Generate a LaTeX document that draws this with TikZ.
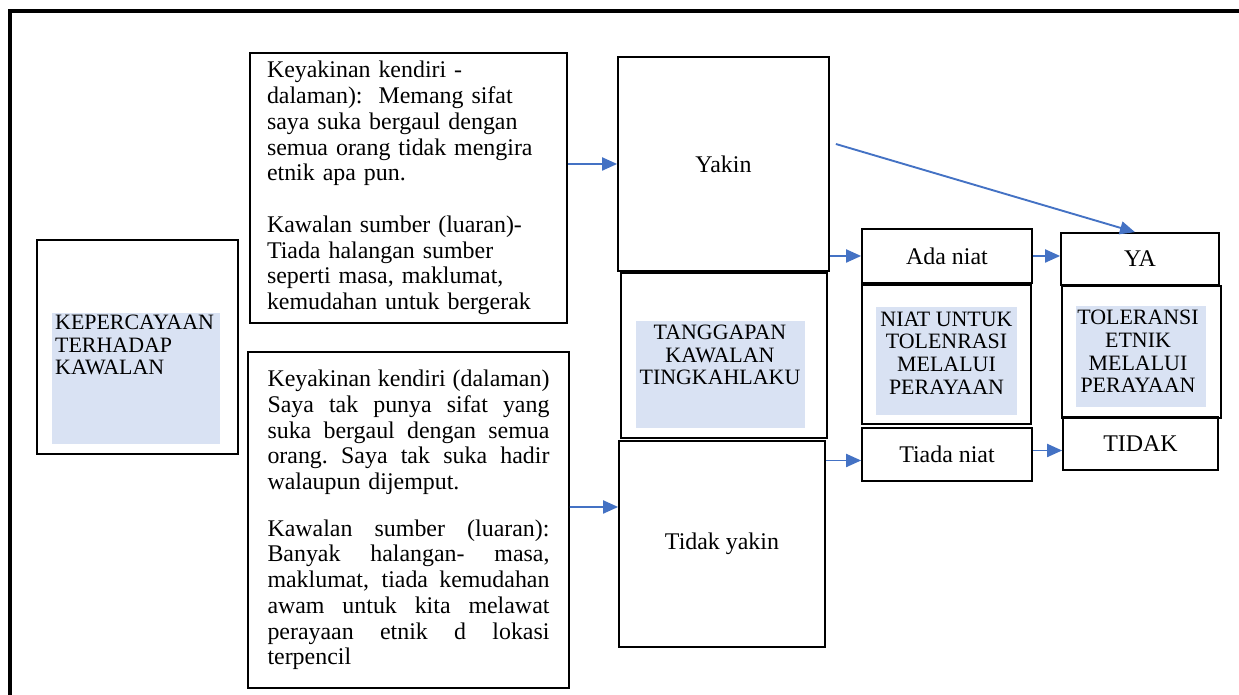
\documentclass[tikz,border=0pt]{standalone}
\usepackage{fontspec}
\setmainfont{Liberation Serif}
\usetikzlibrary{arrows.meta}
\definecolor{hlblue}{HTML}{D9E2F3}
\definecolor{arrblue}{HTML}{4472C4}
\newcommand{\jline}[1]{{\spaceskip=.25em plus 1fil\xspaceskip=.25em plus 1fil\relax\makebox[282bp][s]{#1}}}
\tikzset{
  box/.style={draw, line width=1.7bp, inner sep=0pt},
  body/.style={font=\fontsize{24}{25.8}\selectfont},
  caps/.style={font=\fontsize{22}{22.8}\selectfont, inner sep=0pt, align=center},
  arr/.style={draw=arrblue, line width=1.9bp, -{Triangle[length=15bp,width=13bp]}},
}
\begin{document}
\begin{tikzpicture}[x=1bp,y=1bp]
\useasboundingbox (0,0) rectangle (1239,695);
%%
\draw [line width=4bp] (9.5,0) -- (9.5,684) -- (1239,684);
%% left column
\node (kep_box) at (137.5,348) [box,minimum width=201bp,minimum height=214bp] {};
  \fill [hlblue] (52,251) rectangle (220,382);
  \node (kep) at (55,350) [caps,anchor=west,align=left] {KEPERCAYAAN\\TERHADAP\\KAWALAN};
%% sources
\node (src_top) at (408.5,507) [box,body,minimum width=317bp,minimum height=270bp,text width=283bp,align=left]
  {Keyakinan kendiri -\\dalaman):\ \ Memang sifat\\saya suka bergaul dengan\\semua orang tidak mengira\\etnik apa pun.\\[26bp]
   Kawalan sumber (luaran)-\\Tiada halangan sumber\\seperti masa, maklumat,\\kemudahan untuk bergerak};
  \node (src_bot) at (408.5,175) [box,body,minimum width=321bp,minimum height=336bp,text width=282bp,align=left]
  {\jline{Keyakinan kendiri (dalaman)}\\\jline{Saya tak punya sifat yang}\\\jline{suka bergaul dengan semua}\\\jline{orang. Saya tak suka hadir}\\walaupun dijemput.\\[21bp]
   \jline{Kawalan sumber (luaran):}\\\jline{Banyak halangan- masa,}\\\jline{maklumat, tiada kemudahan}\\\jline{awam untuk kita melawat}\\\jline{perayaan etnik d lokasi}\\terpencil};
%% response
\node (yakin) at (723.5,531) [box,body,minimum width=211bp,minimum height=214bp] {Yakin};
  \node (tgp_box) at (724,339.5) [box,minimum width=206bp,minimum height=165bp] {};
  \fill [hlblue] (636,267) rectangle (805,374);
  \node (tgp) at (720,340) [caps] {TANGGAPAN\\KAWALAN\\TINGKAHLAKU};
  \node (tdk_yakin) at (722,151) [box,body,minimum width=206bp,minimum height=206bp] {Tidak yakin};
%% intention
\node (ada_niat) at (947,439) [box,body,minimum width=170bp,minimum height=54bp] {Ada niat};
  \node (niat_box) at (946.5,340.5) [box,minimum width=169bp,minimum height=139bp] {};
  \fill [hlblue] (876,280) rectangle (1017,388);
  \node (niat) at (946.5,342) [caps] {NIAT UNTUK\\TOLENRASI\\MELALUI\\PERAYAAN};
  \node (tiada_niat) at (947,240.5) [box,body,minimum width=170bp,minimum height=53bp] {Tiada niat};
%% outcome
\node (ya) at (1140,436) [box,body,minimum width=158bp,minimum height=52bp] {YA};
  \node (tol_box) at (1141.5,343) [box,minimum width=159bp,minimum height=132bp] {};
  \fill [hlblue] (1076,288) rectangle (1206,389);
  \node (tol) at (1138,343.5) [caps] {TOLERANSI\\ETNIK\\MELALUI\\PERAYAAN};
  \node (tidak) at (1140.5,251.5) [box,body,minimum width=155bp,minimum height=53bp] {TIDAK};
%%
\draw [arr] (src_top.east |- yakin.west) -- (yakin.west);
  \draw [arr] ([yshift=13bp]src_bot.east) -- ([yshift=37bp]tdk_yakin.west);
  \draw [arr] ([xshift=6bp,yshift=20bp]yakin.east) -- ([xshift=-5bp]ya.north);
  \draw [arr] (yakin.east |- ada_niat.west) -- (ada_niat.west);
  \draw [arr] (ada_niat.east) -- (ada_niat.east -| ya.west);
  \draw [arr] ([yshift=-6bp]tdk_yakin.east |- tiada_niat.west) -- ([yshift=-6bp]tiada_niat.west);
  \draw [arr] ([yshift=4bp]tiada_niat.east) -- ([yshift=4bp]tiada_niat.east -| tidak.west);
%
\end{tikzpicture}
\end{document}
